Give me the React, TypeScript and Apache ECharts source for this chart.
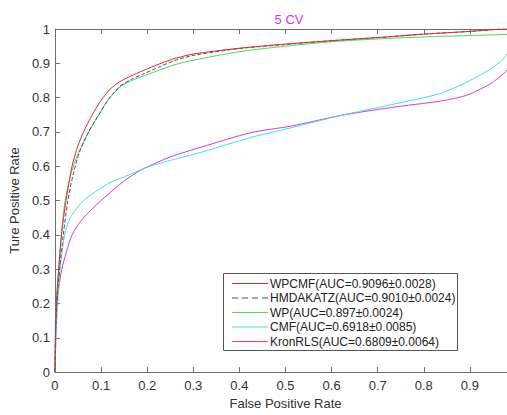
import React, { useEffect, useRef } from "react";
import * as echarts from "echarts";

const seriesNames = [
  "WPCMF(AUC=0.9096±0.0028)",
  "HMDAKATZ(AUC=0.9010±0.0024)",
  "WP(AUC=0.897±0.0024)",
  "CMF(AUC=0.6918±0.0085)",
  "KronRLS(AUC=0.6809±0.0064)",
];

const wpcmf = [
  [0, 0], [0.001, 0.1], [0.003, 0.2], [0.008, 0.3], [0.014, 0.4], [0.024, 0.5],
  [0.037, 0.6], [0.05, 0.66], [0.062, 0.7], [0.08, 0.748], [0.1, 0.792], [0.12, 0.825],
  [0.14, 0.846], [0.165, 0.863], [0.19, 0.878], [0.23, 0.9], [0.26, 0.914],
  [0.3, 0.927], [0.4, 0.944], [0.5, 0.956], [0.6, 0.966], [0.7, 0.975],
  [0.8, 0.985], [0.9, 0.993], [0.98, 1.0], [1, 1],
];

const hmdakatz = [
  [0, 0], [0.001, 0.1], [0.004, 0.2], [0.01, 0.3], [0.018, 0.4], [0.028, 0.5],
  [0.04, 0.58], [0.053, 0.64], [0.073, 0.7], [0.095, 0.75], [0.116, 0.795],
  [0.14, 0.832], [0.165, 0.853], [0.19, 0.868], [0.23, 0.892], [0.26, 0.908],
  [0.3, 0.923], [0.4, 0.943], [0.5, 0.955], [0.6, 0.966], [0.7, 0.975],
  [0.8, 0.985], [0.9, 0.993], [0.98, 1.0], [1, 1],
];

const wp = [
  [0, 0], [0.001, 0.1], [0.003, 0.2], [0.008, 0.3], [0.014, 0.4], [0.022, 0.5],
  [0.035, 0.58], [0.051, 0.64], [0.073, 0.7], [0.095, 0.75], [0.116, 0.795],
  [0.145, 0.835], [0.17, 0.852], [0.19, 0.862], [0.22, 0.877], [0.26, 0.896],
  [0.3, 0.909], [0.4, 0.934], [0.5, 0.95], [0.6, 0.963], [0.7, 0.971],
  [0.8, 0.977], [0.9, 0.981], [1, 0.985],
];

const cmf = [
  [0, 0], [0.002, 0.1], [0.006, 0.2], [0.011, 0.3], [0.021, 0.4], [0.033, 0.45],
  [0.062, 0.5], [0.116, 0.55], [0.15, 0.569], [0.2, 0.597], [0.25, 0.617],
  [0.318, 0.641], [0.425, 0.684], [0.512, 0.712], [0.62, 0.748], [0.728, 0.779],
  [0.836, 0.812], [0.893, 0.845], [0.944, 0.883], [0.972, 0.912], [0.99, 0.95], [1, 1],
];

const kronrls = [
  [0, 0], [0.002, 0.1], [0.004, 0.2], [0.015, 0.3], [0.037, 0.4], [0.062, 0.45],
  [0.1, 0.5], [0.148, 0.555], [0.175, 0.58], [0.2, 0.598], [0.25, 0.627],
  [0.318, 0.656], [0.425, 0.698], [0.512, 0.717], [0.62, 0.748], [0.728, 0.771],
  [0.836, 0.79], [0.893, 0.807], [0.944, 0.84], [0.972, 0.869], [0.99, 0.9], [1, 1],
];

const colors = ["#e0282c", "#4a4a88", "#4fd94f", "#3fe0e0", "#d23cd2"];
const lineTypes = ["solid", "dashed", "solid", "solid", "solid"];
const allData = [wpcmf, hmdakatz, wp, cmf, kronrls];

const FONT = "Liberation Sans, Arial, sans-serif";
const CHART_W = 525;

export default function App() {
  const ref = useRef<HTMLDivElement>(null);
  useEffect(() => {
    if (!ref.current) return;
    const chart = echarts.init(ref.current, undefined, { renderer: "svg" });
    const axisLine = { show: true, lineStyle: { color: "#707070", width: 1 } };
    const tick = { show: true, inside: true, length: 5, lineStyle: { color: "#707070" } };

    const legendX = 223;
    const legendY = 273;
    const rowH = 14.5;
    const legendElems: any[] = [
      {
        type: "rect",
        shape: { x: legendX + 0.5, y: legendY + 0.5, width: 234, height: 77 },
        style: { fill: "#ffffff", stroke: "#555555", lineWidth: 1 },
        z: 100,
      },
    ];
    seriesNames.forEach((n, i) => {
      const cy = legendY + 10.5 + rowH * i;
      legendElems.push({
        type: "line",
        shape: { x1: legendX + 9, y1: cy, x2: legendX + 45, y2: cy },
        style: {
          stroke: colors[i],
          lineWidth: 1,
          lineDash: lineTypes[i] === "dashed" ? [6, 4] : null,
        },
        z: 101,
      });
      legendElems.push({
        type: "text",
        x: legendX + 47,
        y: cy,
        style: {
          text: n,
          fill: "#222",
          font: `12px ${FONT}`,
          verticalAlign: "middle",
          align: "left",
        },
        z: 101,
      });
    });

    chart.setOption({
      animation: false,
      backgroundColor: "#ffffff",
      title: {
        text: "5 CV",
        left: 284,
        top: 8,
        textAlign: "center",
        textStyle: { color: "#d63ad6", fontSize: 13, fontWeight: "normal", fontFamily: FONT },
      },
      grid: { left: 53, top: 29, right: CHART_W - 516, bottom: 35, containLabel: false },
      graphic: legendElems,
      xAxis: [
        {
          type: "value",
          min: 0,
          max: 1,
          interval: 0.1,
          name: "False Positive Rate",
          nameLocation: "middle",
          nameGap: 24,
          nameTextStyle: { color: "#333", fontSize: 13, fontFamily: FONT },
          axisLine,
          axisTick: tick,
          axisLabel: {
            color: "#333",
            fontSize: 13,
            fontFamily: FONT,
            margin: 7,
            formatter: (v: number) => (v >= 0.999 ? "" : String(+v.toFixed(1))),
          },
          splitLine: { show: false },
        },
        {
          type: "value",
          position: "top",
          min: 0,
          max: 1,
          interval: 0.1,
          axisLine,
          axisTick: tick,
          axisLabel: { show: false },
          splitLine: { show: false },
        },
      ],
      yAxis: {
        type: "value",
        min: 0,
        max: 1,
        interval: 0.1,
        name: "Ture Positive Rate",
        nameLocation: "middle",
        nameGap: 26,
        nameTextStyle: { color: "#333", fontSize: 13, fontFamily: FONT },
        axisLine,
        axisTick: tick,
        axisLabel: {
          color: "#333",
          fontSize: 13,
          fontFamily: FONT,
          margin: 5,
          formatter: (v: number) => String(+v.toFixed(1)),
        },
        splitLine: { show: false },
      },
      series: allData.map((d, i) => ({
        name: seriesNames[i],
        type: "line",
        data: d,
        showSymbol: false,
        symbol: "none",
        smooth: 0.25,
        lineStyle: { color: colors[i], width: 1, type: lineTypes[i] },
        itemStyle: { color: colors[i] },
        z: 10 - i,
      })),
    });
    return () => chart.dispose();
  }, []);
  return (
    <div
      style={{
        position: "fixed",
        left: 0,
        top: 0,
        width: 507,
        height: 415,
        overflow: "hidden",
        background: "#fff",
      }}
    >
      <div ref={ref} style={{ width: CHART_W, height: 415 }} />
    </div>
  );
}
